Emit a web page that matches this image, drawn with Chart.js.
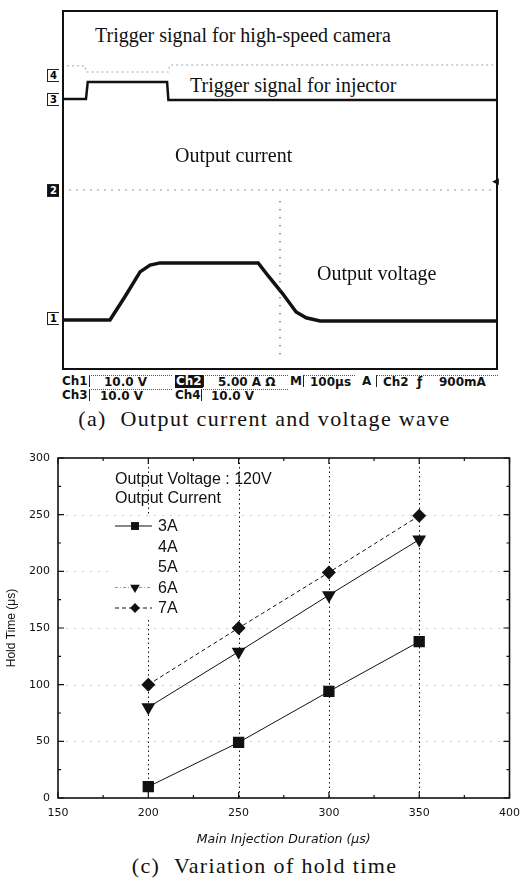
<!DOCTYPE html>
<html>
<head>
<meta charset="utf-8">
<script src="https://cdn.jsdelivr.net/npm/chart.js@4/dist/chart.umd.min.js"></script>
<style>
  body { margin: 0; background: #fff; }
  #page { position: relative; width: 529px; height: 878px; overflow: hidden; background: #fff; }
  .abs { position: absolute; white-space: nowrap; }
  .serif { font-family: "Liberation Serif", "DejaVu Serif", serif; color: #111; }
  .scopeLbl { font-size: 20px; background: #fff; line-height: 24px; }
  .stat { font-family: "DejaVu Sans", sans-serif; font-weight: bold; font-size: 12px; color: #111; line-height: 13px; }
  .box { border-left: 1px solid #222; border-top: 1px dotted #555; height: 12px; }
  .inv { background: #111; color: #fff; padding: 0 1px; }
  .mk { font-family: "DejaVu Sans", sans-serif; font-weight: bold; font-size: 10px; line-height: 11px;
        border: 1px solid #222; border-right: none; padding: 0 2px; }
  .cap { font-size: 22px; letter-spacing: 1.35px; }
</style>
</head>
<body>
<div id="page">
  <div class="abs" style="left:62px;top:10px;width:436px;height:360px;">
    <canvas id="scope" width="436" height="360"></canvas>
  </div>

  <!-- channel markers -->
  <div class="abs mk" style="left:47px;top:69px;">4</div>
  <div class="abs mk" style="left:47px;top:93px;">3</div>
  <div class="abs mk" style="left:47px;top:184px;background:#111;color:#fff;">2</div>
  <div class="abs mk" style="left:47px;top:312px;">1</div>
  <div class="abs stat" style="left:492px;top:175px;font-size:9px;">&#9664;</div>

  <!-- trace labels -->
  <div class="abs serif scopeLbl" style="left:95px;top:23px;">Trigger signal for high-speed camera</div>
  <div class="abs serif scopeLbl" style="left:188px;top:73px;padding:0 2px;">Trigger signal for injector</div>
  <div class="abs serif scopeLbl" style="left:175px;top:143px;">Output current</div>
  <div class="abs serif scopeLbl" style="left:317px;top:261px;">Output voltage</div>

  <!-- scope status line -->
  <div class="abs stat" style="left:62px;top:375px;">Ch1</div>
  <div class="abs stat box" style="left:89px;top:375px;width:83px;padding-left:14px;box-sizing:border-box;">10.0 V</div>
  <div class="abs stat inv" style="left:175px;top:375px;">Ch2</div>
  <div class="abs stat box" style="left:203px;top:375px;width:85px;padding-left:14px;box-sizing:border-box;">5.00 A &#937;</div>
  <div class="abs stat" style="left:290px;top:375px;">M</div>
  <div class="abs stat box" style="left:303px;top:375px;width:52px;padding-left:6px;box-sizing:border-box;">100&#956;s</div>
  <div class="abs stat" style="left:362px;top:375px;">A</div>
  <div class="abs stat box" style="left:376px;top:375px;width:122px;padding-left:6px;box-sizing:border-box;">Ch2&nbsp;&nbsp;&#402;&nbsp;&nbsp;&nbsp;&nbsp;900mA</div>
  <div class="abs stat" style="left:62px;top:389px;">Ch3</div>
  <div class="abs stat box" style="left:89px;top:389px;width:83px;padding-left:10px;box-sizing:border-box;">10.0 V</div>
  <div class="abs stat" style="left:175px;top:389px;">Ch4</div>
  <div class="abs stat box" style="left:201px;top:389px;width:87px;padding-left:9px;box-sizing:border-box;">10.0 V</div>

  <div class="abs serif cap" style="left:0;width:529px;text-align:center;top:406px;">(a)&nbsp;&nbsp;Output current and voltage wave</div>

  <div class="abs" style="left:0;top:440px;width:529px;height:408px;">
    <canvas id="hold" width="529" height="408"></canvas>
  </div>

  <div class="abs serif cap" style="left:0;width:529px;text-align:center;top:853px;">(c)&nbsp;&nbsp;Variation of hold time</div>
</div>

<script>
// ---- oscilloscope traces (time in us, level in screen divisions from bottom) ----
const ch1Time = [0, 110, 145, 179, 202, 225, 450, 473, 505, 537, 560, 592, 1000];
const ch1Div  = [1.11, 1.11, 1.64, 2.18, 2.33, 2.38, 2.38, 2.09, 1.71, 1.29, 1.16, 1.09, 1.09];
const ch2Time = [0, 1000];
const ch2Div  = [4.0, 4.0];
const ch3Time = [0, 55, 59, 241, 244, 1000];
const ch3Div  = [6.02, 6.02, 6.4, 6.4, 6.0, 6.0];
const ch4Time = [0, 53, 55, 243, 248, 1000];
const ch4Div  = [6.76, 6.76, 6.62, 6.62, 6.78, 6.78];
const trigTime = [500, 500];
const trigDiv  = [0.35, 3.9];

// ---- hold time vs main injection duration ----
const durations = [200, 250, 300, 350];
const hold3A = [10, 49, 94, 138];
const hold4A = [];
const hold5A = [];
const hold6A = [80, 129, 179, 228];
const hold7A = [100, 150, 199, 249];

const pts = (xs, ys) => ys.map((y, i) => ({ x: xs[i], y }));

function trace(xs, ys, color, width, dash) {
  return {
    data: pts(xs, ys),
    borderColor: color,
    borderWidth: width,
    borderDash: dash || [],
    pointRadius: 0,
    tension: 0,
    fill: false
  };
}

const scopeFrame = {
  id: "scopeFrame",
  afterDraw(chart) {
    const { ctx, width, height } = chart;
    ctx.save();
    ctx.strokeStyle = "#111";
    ctx.lineWidth = 2;
    ctx.strokeRect(1, 1, width - 2, height - 2);
    ctx.restore();
  }
};

new Chart(document.getElementById("scope"), {
  type: "line",
  data: {
    datasets: [
      trace(ch4Time, ch4Div, "#c4c4c4", 1.5, [2, 3]),
      trace(ch2Time, ch2Div, "#9a9a9a", 1, [2, 5]),
      trace(trigTime, trigDiv, "#444", 1.5, [1, 7]),
      trace(ch3Time, ch3Div, "#111", 2.5),
      trace(ch1Time, ch1Div, "#111", 3.5)
    ]
  },
  options: {
    responsive: false,
    animation: false,
    layout: { padding: 0 },
    plugins: { legend: { display: false }, tooltip: { enabled: false } },
    scales: {
      x: { type: "linear", min: 0, max: 1000, display: false },
      y: { min: 0, max: 8, display: false }
    }
  },
  plugins: [scopeFrame]
});

// grid, inward ticks, frame and legend for the hold time chart
const holdDecor = {
  id: "holdDecor",
  beforeDatasetsDraw(chart) {
    const { ctx, chartArea: a, scales: { x, y } } = chart;
    ctx.save();
    ctx.lineWidth = 1;
    ctx.strokeStyle = "#ccc";
    ctx.setLineDash([2, 6]);
    for (let v = 50; v < 300; v += 50) {
      const py = Math.round(y.getPixelForValue(v)) + 0.5;
      ctx.beginPath(); ctx.moveTo(a.left, py); ctx.lineTo(a.right, py); ctx.stroke();
    }
    ctx.strokeStyle = "#111";
    ctx.setLineDash([1.5, 3]);
    for (let v = 200; v <= 350; v += 50) {
      const px = Math.round(x.getPixelForValue(v)) + 0.5;
      ctx.beginPath(); ctx.moveTo(px, a.top); ctx.lineTo(px, a.bottom); ctx.stroke();
    }
    ctx.setLineDash([]);
    ctx.lineWidth = 1.2;
    for (let v = 0; v <= 300; v += 25) {
      const py = y.getPixelForValue(v);
      const len = v % 50 === 0 ? 6 : 3;
      ctx.beginPath();
      ctx.moveTo(a.left, py); ctx.lineTo(a.left + len, py);
      ctx.moveTo(a.right, py); ctx.lineTo(a.right - len, py);
      ctx.stroke();
    }
    for (let v = 150; v <= 400; v += 25) {
      const px = x.getPixelForValue(v);
      const len = v % 50 === 0 ? 6 : 3;
      ctx.beginPath();
      ctx.moveTo(px, a.bottom); ctx.lineTo(px, a.bottom - len);
      ctx.moveTo(px, a.top); ctx.lineTo(px, a.top + len);
      ctx.stroke();
    }
    ctx.lineWidth = 1.6;
    ctx.strokeRect(a.left, a.top, a.right - a.left, a.bottom - a.top);

    // legend block
    const lx = a.left + 57;
    ctx.fillStyle = "#111";
    ctx.font = "16px 'Liberation Sans', Arial, sans-serif";
    ctx.textBaseline = "middle";
    ctx.fillText("Output Voltage : 120V", lx, a.top + 22);
    ctx.fillText("Output Current", lx, a.top + 41);
    ctx.fillStyle = "#fff";
    ctx.fillRect(lx - 2, a.top + 58, 70, 102);
    chart.data.datasets.forEach((ds, i) => {
      const ry = a.top + 68 + i * 20.5;
      ctx.save();
      ctx.strokeStyle = ds.legendLine || ds.borderColor;
      ctx.lineWidth = 1;
      ctx.setLineDash(ds.legendDash || ds.borderDash || []);
      if (ds.data.length) {
        ctx.beginPath(); ctx.moveTo(lx, ry); ctx.lineTo(lx + 37, ry); ctx.stroke();
        ctx.setLineDash([]);
        ctx.fillStyle = ds.pointBackgroundColor;
        Chart.helpers.drawPoint(ctx, {
          pointStyle: ds.pointStyle, radius: ds.pointRadius * 0.7,
          rotation: ds.pointRotation || 0, borderWidth: 0
        }, lx + 20, ry);
      }
      ctx.restore();
      ctx.fillStyle = "#111";
      ctx.fillText(ds.label, lx + 43, ry + 1);
    });
    ctx.restore();
  }
};

function series(label, values, style, dash, rotation, radius) {
  return {
    label,
    data: pts(durations, values),
    borderColor: "#111",
    borderWidth: 1,
    borderDash: dash,
    pointStyle: style,
    pointRotation: rotation,
    pointRadius: radius,
    pointBackgroundColor: "#111",
    pointBorderColor: "#111",
    pointBorderWidth: 0,
    tension: 0,
    fill: false
  };
}

const ds6 = series("6A", hold6A, "triangle", [], 180, 8);
ds6.legendDash = [3, 2, 1, 2];
ds6.legendLine = "#999";

const tickFont = { family: "'DejaVu Sans', sans-serif", size: 11 };

new Chart(document.getElementById("hold"), {
  type: "line",
  data: {
    datasets: [
      series("3A", hold3A, "rect", [], 0, 8),
      series("4A", hold4A, "circle", [], 0, 0),
      series("5A", hold5A, "circle", [], 0, 0),
      ds6,
      series("7A", hold7A, "rectRot", [4, 3], 0, 7)
    ]
  },
  options: {
    responsive: false,
    animation: false,
    layout: { padding: { left: 0, right: 16, top: 18, bottom: 0 } },
    plugins: { legend: { display: false }, tooltip: { enabled: false } },
    scales: {
      x: {
        type: "linear", min: 150, max: 400,
        afterFit: (s) => { s.height = 50; },
        grid: { display: false, drawTicks: false },
        border: { display: false },
        ticks: { stepSize: 50, padding: 9, color: "#111", font: tickFont },
        title: { display: true, text: "Main Injection Duration (\u03bcs)", color: "#111", padding: { top: 0, bottom: 1 },
                 font: { family: "'DejaVu Sans', sans-serif", size: 12.5, style: "italic" } }
      },
      y: {
        min: 0, max: 300,
        afterFit: (s) => { s.width = 58; },
        grid: { display: false, drawTicks: false },
        border: { display: false },
        ticks: { stepSize: 50, padding: 8, color: "#111", font: tickFont },
        title: { display: true, text: "Hold Time (\u03bcs)", color: "#111", padding: { top: 4, bottom: 0 },
                 font: { family: "'Liberation Sans', Arial, sans-serif", size: 12 } }
      }
    }
  },
  plugins: [holdDecor]
});
</script>
</body>
</html>
